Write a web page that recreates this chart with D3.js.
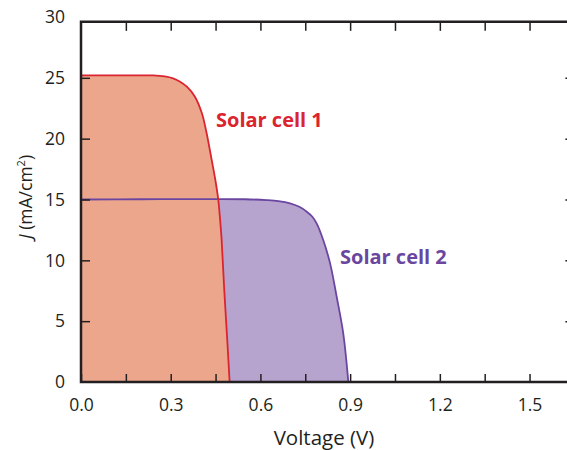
<!DOCTYPE html>
<html>
<head>
<meta charset="utf-8">
<script src="https://cdn.jsdelivr.net/npm/d3@7"></script>
<style>
  body { margin: 0; background: #fff; }
  svg { display: block; }
  text { font-family: "Open Sans", "Noto Sans", sans-serif; fill: #231f20; }
</style>
</head>
<body>
<svg id="chart" width="567" height="450"></svg>
<script>
// ######## Data (J-V curves of two solar cells)
var cell1_voltage = [0, 0.10, 0.20, 0.241, 0.28, 0.308, 0.33, 0.354, 0.381, 0.404, 0.420, 0.437, 0.450, 0.459, 0.465, 0.470, 0.479, 0.489, 0.497];
var cell1_current = [25.2, 25.2, 25.2, 25.2, 25.12, 24.96, 24.7, 24.27, 23.45, 22.11, 20.47, 18.25, 16.5, 15.0, 13.4, 11.8, 7.6, 3.5, 0];

var cell2_voltage = [0, 0.20, 0.40, 0.55, 0.621, 0.66, 0.699, 0.73, 0.755, 0.773, 0.788, 0.810, 0.833, 0.855, 0.877, 0.894];
var cell2_current = [15.0, 15.02, 15.03, 15.02, 14.95, 14.87, 14.69, 14.4, 14.0, 13.6, 13.04, 11.67, 9.75, 7.01, 4.0, 0];

var x_ticks = [0, 0.15, 0.3, 0.45, 0.6, 0.75, 0.9, 1.05, 1.2, 1.35, 1.5];
var x_labels = ["0.0", "", "0.3", "", "0.6", "", "0.9", "", "1.2", "", "1.5"];
var y_ticks = [0, 5, 10, 15, 20, 25, 30];
var y_frame_ticks = [5, 10, 15, 20, 25];

var series_names = ["Solar cell 1", "Solar cell 2"];

// ######## Scales
var svg = d3.select("#chart");
var x = d3.scaleLinear().domain([0, 1.65]).range([81, 574.4]);
var y = d3.scaleLinear().domain([0, 30]).range([382, 17]);
var y_top = 29.6; // frame top sits a little below the "30" label

function toPoints(vs, js) {
  return vs.map(function(v, i) { return [v, js[i]]; });
}
var cell1 = toPoints(cell1_voltage, cell1_current);
var cell2 = toPoints(cell2_voltage, cell2_current);

var smooth = d3.curveCatmullRom.alpha(0.5);

var area = d3.area()
    .x(function(d) { return x(d[0]); })
    .y0(y(0))
    .y1(function(d) { return y(d[1]); })
    .curve(smooth);

var line = d3.line()
    .x(function(d) { return x(d[0]); })
    .y(function(d) { return y(d[1]); })
    .curve(smooth);

// ######## Filled areas (cell 1 sits on top of cell 2)
svg.append("path").datum(cell2).attr("d", area).attr("fill", "#b6a4ce");
svg.append("path").datum(cell1).attr("d", area).attr("fill", "#eca68c");

svg.append("path").datum(cell2).attr("d", line)
    .attr("fill", "none").attr("stroke", "#6b46a0").attr("stroke-width", 1.8);
svg.append("path").datum(cell1).attr("d", line)
    .attr("fill", "none").attr("stroke", "#da2530").attr("stroke-width", 1.8);

// ######## Axes, all ticks pointing inward
function styleAxis(g) {
  g.select(".domain").remove();
  g.selectAll(".tick line").attr("stroke", "#231f20").attr("stroke-width", 1.5);
  g.selectAll(".tick text").attr("font-size", 17.5).attr("fill", "#231f20")
      .attr("font-family", "'Open Sans', sans-serif");
}

svg.append("g")
    .attr("transform", "translate(0," + y(0) + ")")
    .call(d3.axisBottom(x).tickValues(x_ticks).tickSizeInner(-8).tickSizeOuter(0).tickPadding(17)
        .tickFormat(function(d, i) { return x_labels[i]; }))
    .call(styleAxis);

svg.append("g")
    .attr("transform", "translate(0," + y(y_top) + ")")
    .call(d3.axisTop(x).tickValues(x_ticks.slice(1)).tickSizeInner(-9).tickSizeOuter(0).tickFormat(""))
    .call(styleAxis);

svg.append("g")
    .attr("transform", "translate(" + x(0) + ",0)")
    .call(d3.axisLeft(y).tickValues(y_frame_ticks).tickSizeInner(-9).tickSizeOuter(0).tickFormat(""))
    .call(styleAxis);

svg.append("g")
    .attr("transform", "translate(" + x(1.65) + ",0)")
    .call(d3.axisRight(y).tickValues(y_frame_ticks).tickSizeInner(-9).tickSizeOuter(0).tickFormat(""))
    .call(styleAxis);

// y tick labels (the 30 label sits above the frame)
svg.append("g").selectAll("text")
    .data(y_ticks)
    .join("text")
    .attr("x", x(0) - 16)
    .attr("y", function(d) { return y(d); })
    .attr("dy", "0.36em")
    .attr("text-anchor", "end")
    .attr("font-size", 17.5)
    .text(function(d) { return d; });

// ######## Frame
svg.append("path")
    .attr("d", "M" + x(1.65) + "," + y(y_top) + "H" + x(0) + "V" + y(0) + "H" + x(1.65))
    .attr("fill", "none")
    .attr("stroke", "#231f20")
    .attr("stroke-width", 2.5);

// ######## Axis titles
svg.append("text")
    .attr("x", 324)
    .attr("y", 445)
    .attr("text-anchor", "middle")
    .attr("font-size", 20.5)
    .text("Voltage (V)");

var ylab = svg.append("text")
    .attr("transform", "translate(32,197) rotate(-90)")
    .attr("text-anchor", "middle")
    .attr("font-size", 17.5);
ylab.append("tspan").attr("font-style", "italic").text("J");
ylab.append("tspan").text(" (mA/cm");
ylab.append("tspan").attr("font-size", 11).attr("dy", -7).text("2");
ylab.append("tspan").attr("dy", 7).text(")");

// ######## Series labels
svg.append("text")
    .attr("x", 216)
    .attr("y", 127)
    .attr("font-size", 20)
    .attr("font-weight", "bold")
    .style("fill", "#da2530")
    .text(series_names[0]);

svg.append("text")
    .attr("x", 340)
    .attr("y", 264)
    .attr("font-size", 20)
    .attr("font-weight", "bold")
    .style("fill", "#6b46a0")
    .text(series_names[1]);
</script>
</body>
</html>
